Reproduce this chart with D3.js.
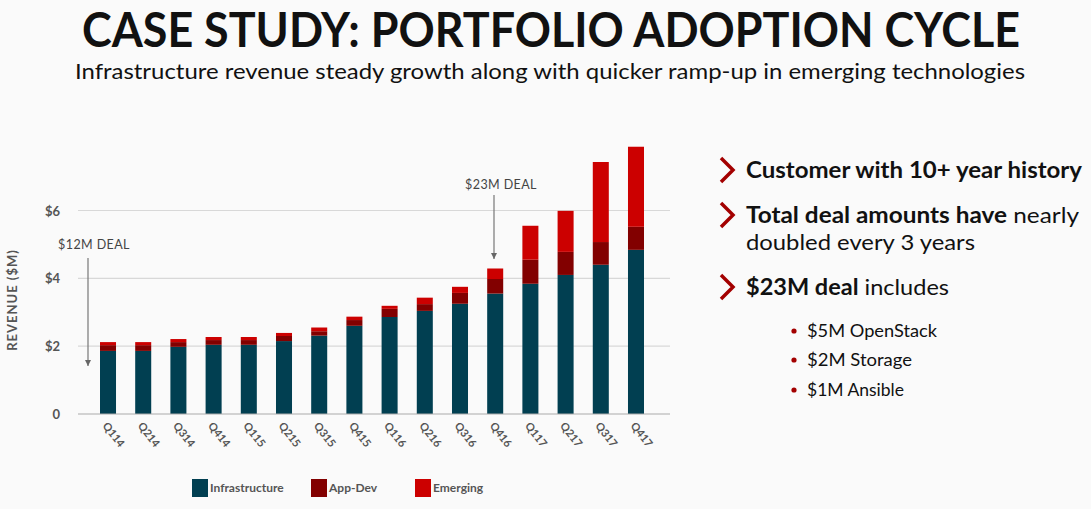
<!DOCTYPE html>
<html>
<head>
<meta charset="utf-8">
<script src="https://cdn.jsdelivr.net/npm/d3@7"></script>
<style>
  html, body { margin: 0; padding: 0; background: #fafafa; }
  svg { display: block; }
</style>
</head>
<body>
<svg id="chart" width="1091" height="509"></svg>
<script>
// ---- Data ----
const quarters = ["Q114","Q214","Q314","Q414","Q115","Q215","Q315","Q415","Q116","Q216","Q316","Q416","Q117","Q217","Q317","Q417"];
const infrastructure = [1.86, 1.86, 1.98, 2.04, 2.04, 2.15, 2.31, 2.60, 2.86, 3.04, 3.25, 3.55, 3.84, 4.10, 4.40, 4.84];
const appDev         = [0.17, 0.17, 0.14, 0.14, 0.14, 0.15, 0.13, 0.17, 0.24, 0.20, 0.32, 0.43, 0.71, 0.68, 0.67, 0.68];
const emerging       = [0.09, 0.09, 0.09, 0.09, 0.09, 0.09, 0.11, 0.10, 0.09, 0.19, 0.18, 0.31, 1.00, 1.21, 2.36, 2.36];
const seriesNames = ["Infrastructure", "App-Dev", "Emerging"];
const seriesColors = ["#013f51", "#820000", "#cc0000"];
const yTicks = [0, 2, 4, 6];
const annotations = [
  { label: "$12M DEAL", quarter: "Q114" },
  { label: "$23M DEAL", quarter: "Q416" }
];
const bullets = ["$5M OpenStack", "$2M Storage", "$1M Ansible"];

const font = "'Lato', 'Open Sans', sans-serif";
const svg = d3.select("#chart");

// ---- Title ----
svg.append("text")
  .attr("x", 551).attr("y", 47)
  .attr("text-anchor", "middle")
  .attr("font-family", font).attr("font-weight", 700)
  .attr("font-size", 48).attr("fill", "#111")
  .attr("textLength", 938).attr("lengthAdjust", "spacingAndGlyphs")
  .text("CASE STUDY: PORTFOLIO ADOPTION CYCLE");

svg.append("text")
  .attr("x", 550).attr("y", 79)
  .attr("text-anchor", "middle")
  .attr("font-family", font).attr("font-weight", 400)
  .attr("font-size", 21).attr("fill", "#111")
  .attr("textLength", 950).attr("lengthAdjust", "spacingAndGlyphs")
  .text("Infrastructure revenue steady growth along with quicker ramp-up in emerging technologies");

// ---- Scales ----
const x = d3.scaleBand().domain(quarters).range([90.4, 653.6]).paddingInner(0.545).paddingOuter(0.2727);
const y = d3.scaleLinear().domain([0, 6]).range([414, 210.5]);

// gridlines
svg.append("g").selectAll("line").data(yTicks.filter(d => d > 0)).join("line")
  .attr("x1", 78).attr("x2", 670)
  .attr("y1", d => y(d)).attr("y2", d => y(d))
  .attr("stroke", "#d8d8d8").attr("stroke-width", 1.2);

// stacked bars
const table = quarters.map((q, i) => ({ q, Infrastructure: infrastructure[i], "App-Dev": appDev[i], Emerging: emerging[i] }));
const stack = d3.stack().keys(seriesNames)(table);
svg.append("g").selectAll("g").data(stack).join("g")
  .attr("fill", (d, i) => seriesColors[i])
  .selectAll("rect").data(d => d).join("rect")
  .attr("x", d => x(d.data.q))
  .attr("width", x.bandwidth())
  .attr("y", d => y(d[1]))
  .attr("height", d => y(d[0]) - y(d[1]));

// baseline
svg.append("line").attr("x1", 78).attr("x2", 670).attr("y1", 414).attr("y2", 414)
  .attr("stroke", "#aaa").attr("stroke-width", 1.2);

// y axis
const yAxis = svg.append("g").attr("transform", "translate(60,0)")
  .call(d3.axisLeft(y).tickValues(yTicks).tickSize(0).tickPadding(0)
    .tickFormat(d => d === 0 ? "0" : "$" + d));
yAxis.select(".domain").remove();
yAxis.selectAll("text")
  .attr("font-family", font).attr("font-weight", 700)
  .attr("font-size", 13).attr("fill", "#555").attr("dy", "0.35em");

svg.append("text")
  .attr("transform", "translate(17,300) rotate(-90)")
  .attr("text-anchor", "middle")
  .attr("font-family", font).attr("font-weight", 700)
  .attr("font-size", 13).attr("letter-spacing", 1).attr("fill", "#555")
  .text("REVENUE ($M)");

// x axis
const xAxis = svg.append("g").attr("transform", "translate(0,414)")
  .call(d3.axisBottom(x).tickSize(0).tickPadding(0));
xAxis.select(".domain").remove();
xAxis.selectAll("text")
  .attr("text-anchor", "start")
  .attr("font-family", font).attr("font-weight", 700)
  .attr("font-size", 11).attr("fill", "#555")
  .attr("dy", 0)
  .attr("transform", "translate(-6,12) rotate(52)");

// annotations
const ann = [
  { ...annotations[0], tx: 94, ty: 249, ax: 88, ay1: 258, ay2: 366 },
  { ...annotations[1], tx: 501, ty: 189, ax: 494, ay1: 195, ay2: 259 }
];
svg.append("defs").append("marker")
  .attr("id", "arrow").attr("viewBox", "0 0 10 10")
  .attr("refX", 10).attr("refY", 5)
  .attr("markerWidth", 5).attr("markerHeight", 5)
  .attr("orient", "auto")
  .append("path").attr("d", "M0,0 L10,5 L0,10 Z").attr("fill", "#666");
ann.forEach(a => {
  svg.append("text").attr("x", a.tx).attr("y", a.ty)
    .attr("text-anchor", "middle")
    .attr("font-family", font).attr("font-weight", 400)
    .attr("font-size", 12.5).attr("fill", "#444").attr("letter-spacing", 0.4)
    .text(a.label);
  svg.append("line").attr("x1", a.ax).attr("x2", a.ax).attr("y1", a.ay1).attr("y2", a.ay2)
    .attr("stroke", "#777").attr("stroke-width", 1.2).attr("marker-end", "url(#arrow)");
});

// legend
const legendX = [192, 311, 415];
const legend = svg.append("g").selectAll("g").data(seriesNames).join("g")
  .attr("transform", (d, i) => `translate(${legendX[i]},479)`);
legend.append("rect").attr("width", 16).attr("height", 18).attr("fill", (d, i) => seriesColors[i]);
legend.append("text").attr("x", 18).attr("y", 13)
  .attr("font-family", font).attr("font-weight", 700)
  .attr("font-size", 12).attr("fill", "#555")
  .text(d => d);

// right panel
const panel = svg.append("g");
function chevron(cy) {
  panel.append("path")
    .attr("d", `M721,${cy - 12} L733,${cy} L721,${cy + 12}`)
    .attr("fill", "none").attr("stroke", "#a30000").attr("stroke-width", 3.5);
}
chevron(170);
chevron(215);
chevron(287);
const tfont = (sel, w, size) => sel.attr("font-family", font).attr("font-weight", w).attr("font-size", size).attr("fill", "#111");

let t = panel.append("text").attr("x", 746).attr("y", 178);
tfont(t, 700, 22); t.attr("textLength", 336).attr("lengthAdjust", "spacingAndGlyphs").text("Customer with 10+ year history");

t = panel.append("text").attr("x", 746).attr("y", 223).attr("textLength", 333).attr("lengthAdjust", "spacingAndGlyphs");
tfont(t, 400, 22);
t.append("tspan").attr("font-weight", 700).text("Total deal amounts have");
t.append("tspan").text(" nearly");

t = panel.append("text").attr("x", 746).attr("y", 250);
tfont(t, 400, 22); t.attr("textLength", 229).attr("lengthAdjust", "spacingAndGlyphs").text("doubled every 3 years");

t = panel.append("text").attr("x", 746).attr("y", 295).attr("textLength", 203).attr("lengthAdjust", "spacingAndGlyphs");
tfont(t, 400, 22);
t.append("tspan").attr("font-weight", 700).text("$23M deal");
t.append("tspan").text(" includes");

const bulletY = [337, 366, 396];
const bulletW = [130, 105, 97];
bullets.forEach((b, i) => {
  panel.append("circle").attr("cx", 794).attr("cy", bulletY[i] - 6).attr("r", 2.6).attr("fill", "#a30000");
  const bt = panel.append("text").attr("x", 807).attr("y", bulletY[i]);
  tfont(bt, 400, 18);
  bt.attr("textLength", bulletW[i]).attr("lengthAdjust", "spacingAndGlyphs").text(b);
});
</script>
</body>
</html>
